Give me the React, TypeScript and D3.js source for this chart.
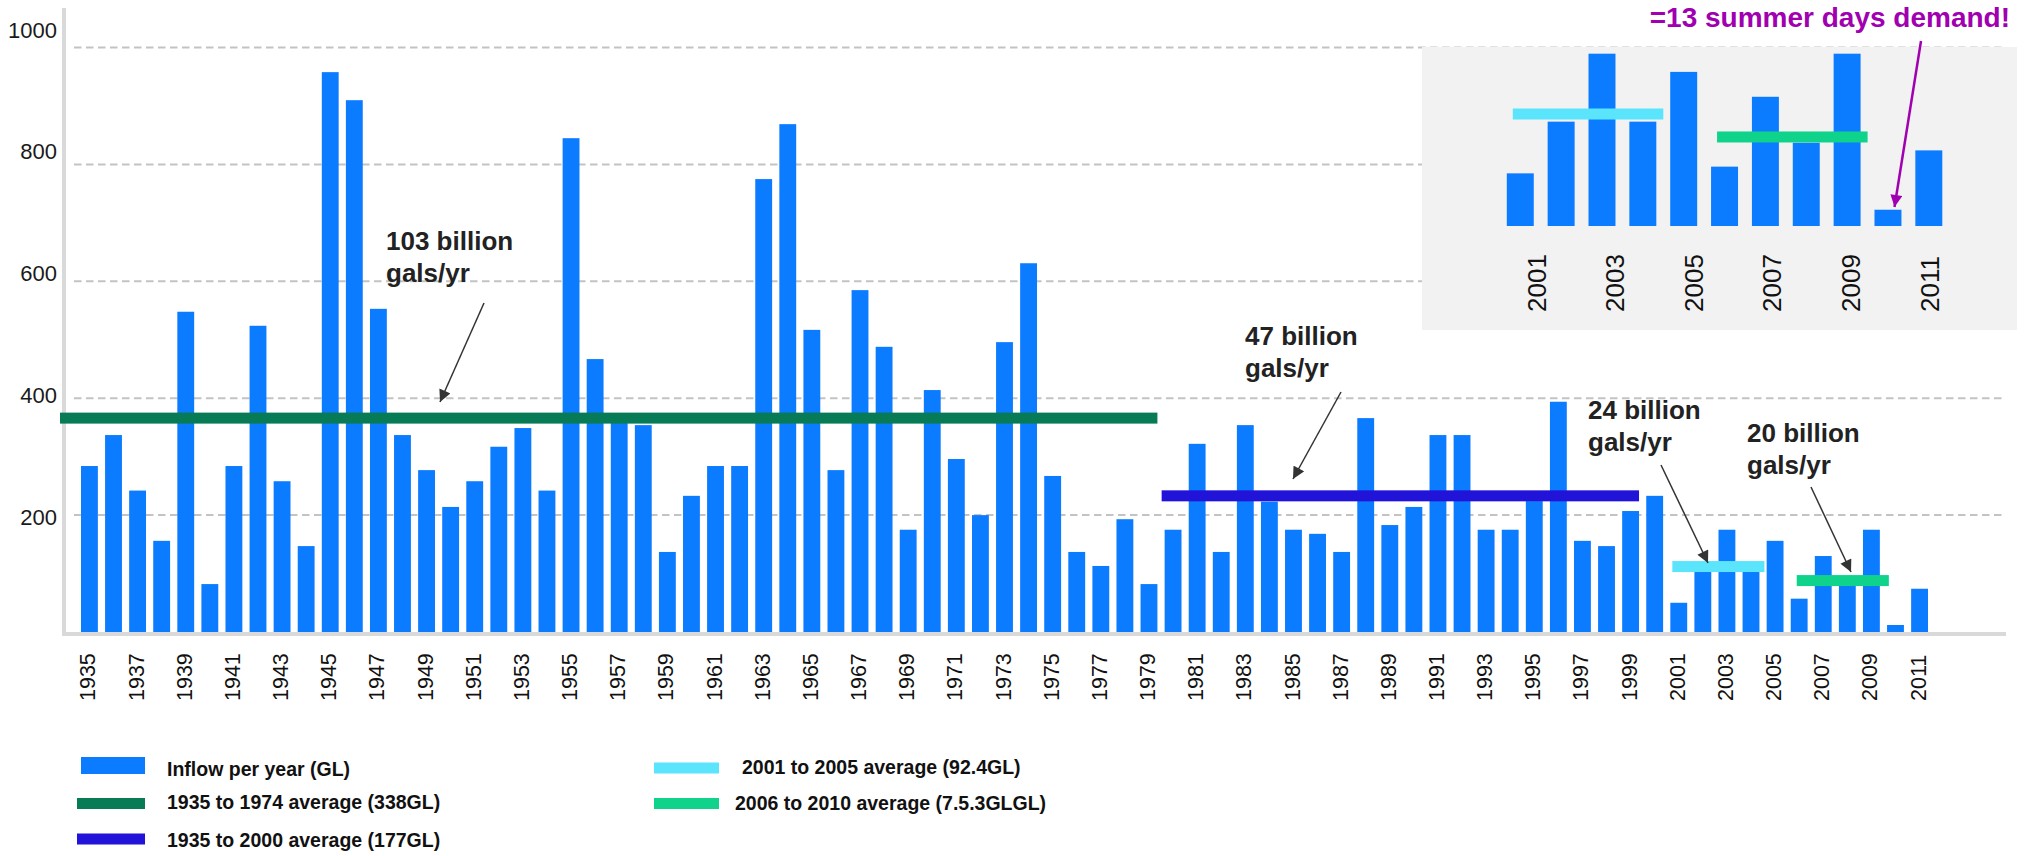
import React, { useEffect, useRef } from 'react';
import * as d3 from 'd3';

// inflow per year (GL)
const years = [
  1935, 1936, 1937, 1938, 1939, 1940, 1941, 1942, 1943, 1944, 1945, 1946, 1947, 1948, 1949, 1950,
  1951, 1952, 1953, 1954, 1955, 1956, 1957, 1958, 1959, 1960, 1961, 1962, 1963, 1964, 1965, 1966,
  1967, 1968, 1969, 1970, 1971, 1972, 1973, 1974, 1975, 1976, 1977, 1978, 1979, 1980, 1981, 1982,
  1983, 1984, 1985, 1986, 1987, 1988, 1989, 1990, 1991, 1992, 1993, 1994, 1995, 1996, 1997, 1998,
  1999, 2000, 2001, 2002, 2003, 2004, 2005, 2006, 2007, 2008, 2009, 2010, 2011,
];
const inflow = [
  284, 337, 242, 156, 548, 82, 284, 524, 258, 147, 958, 910, 553, 337, 277, 214,
  258, 317, 349, 242, 845, 467, 358, 354, 137, 233, 284, 284, 775, 869, 517, 277,
  585, 488, 175, 414, 296, 200, 496, 631, 267, 137, 113, 193, 82, 175, 322, 137,
  354, 223, 175, 168, 137, 366, 183, 214, 337, 337, 175, 175, 224, 394, 156, 147,
  207, 233, 50, 104, 175, 104, 156, 57, 130, 82, 175, 12, 74,
];
const yTicks = [200, 400, 600, 800, 1000];
const xTickYears = years.filter((_, i) => i % 2 === 0);

const insetYears = [2001, 2002, 2003, 2004, 2005, 2006, 2007, 2008, 2009, 2010, 2011];
const insetTicks = [2001, 2003, 2005, 2007, 2009, 2011];

// average bars: year span they are drawn over, and where they sit on the axis
const avgFrom = [1935, 1980, 2001, 2006];
const avgTo = [1979, 1999, 2004, 2009];
const avgValue = [366, 233, 112, 88];
const avgLabels = [
  '1935 to 1974 average (338GL)',
  '1935 to 2000 average (177GL)',
  '2001 to 2005 average (92.4GL)',
  '2006 to 2010 average (7.5.3GLGL)',
];
const avgInInset = [false, false, true, true];

const annotationText = [
  ['103 billion', 'gals/yr'],
  ['47 billion', 'gals/yr'],
  ['24 billion', 'gals/yr'],
  ['20 billion', 'gals/yr'],
];

// styling / layout
const BAR = '#0b7bff';
const AVG_COLORS = ['#077b55', '#2213d9', '#5ae5fd', '#0fd38a'];
const AVG_SHIFT = [0, 0, 5, 9];
const ANNOT_POS = [
  { x: 386, y: 250, from: [484, 303], to: [440, 402] },
  { x: 1245, y: 345, from: [1341, 392], to: [1293, 479] },
  { x: 1588, y: 419, from: [1661, 465], to: [1708, 563] },
  { x: 1747, y: 442, from: [1811, 487], to: [1851, 572] },
];
const FONT = '"Liberation Sans", Arial, sans-serif';

const App = () => {
  const svgRef = useRef(null);

  useEffect(() => {
    const width = 2028;
    const height = 856;
    const svg = d3.select(svgRef.current);
    svg.selectAll('*').remove();
    svg.attr('width', width).attr('height', height).style('font-family', FONT);

    const defs = svg.append('defs');
    const marker = (id, color) => defs.append('marker')
      .attr('id', id)
      .attr('viewBox', '0 0 10 10')
      .attr('refX', 10).attr('refY', 5)
      .attr('markerUnits', 'userSpaceOnUse')
      .attr('markerWidth', 13).attr('markerHeight', 12)
      .attr('orient', 'auto')
      .append('path').attr('d', 'M0,0 L10,5 L0,10 z').attr('fill', color);
    marker('arr-dark', '#333');
    marker('arr-mag', '#a000b0');

    const x = d3.scaleBand().domain(years).range([81, 1928]).paddingInner(0.3).paddingOuter(0);
    const y = d3.scaleLinear().domain([0, 1000]).range([632, 47.6]);
    const yLabel = d3.scaleLinear().domain([200, 1000]).range([517, 30]);
    const axisX = 64;

    // gridlines
    svg.append('g').selectAll('line').data(yTicks).enter().append('line')
      .attr('x1', 74).attr('x2', 2006)
      .attr('y1', d => y(d)).attr('y2', d => y(d))
      .attr('stroke', '#c3c3c3').attr('stroke-width', 2).attr('stroke-dasharray', '7.5 4.5');

    // inset panel
    const inset = { x0: 1422, x1: 2017, y0: 47, y1: 330 };
    svg.append('rect')
      .attr('x', inset.x0).attr('y', inset.y0)
      .attr('width', inset.x1 - inset.x0).attr('height', inset.y1 - inset.y0)
      .attr('fill', '#f2f2f2');

    // bars
    svg.append('g').selectAll('rect').data(inflow).enter().append('rect')
      .attr('x', (d, i) => x(years[i]))
      .attr('y', d => y(d))
      .attr('width', x.bandwidth())
      .attr('height', d => y(0) - y(d))
      .attr('fill', BAR);

    // axis lines
    svg.append('line').attr('x1', axisX).attr('x2', axisX).attr('y1', 8).attr('y2', 636)
      .attr('stroke', '#d9d9d9').attr('stroke-width', 4);
    svg.append('line').attr('x1', 62).attr('x2', 2006).attr('y1', 634).attr('y2', 634)
      .attr('stroke', '#d9d9d9').attr('stroke-width', 4);

    // average lines
    const avgX1 = i => (i === 0 ? axisX - 4 : x(avgFrom[i]) - 3 + AVG_SHIFT[i]);
    const avgX2 = i => x(avgTo[i]) + x.bandwidth() + AVG_SHIFT[i];
    svg.append('g').selectAll('rect').data(avgValue).enter().append('rect')
      .attr('x', (d, i) => avgX1(i))
      .attr('y', d => y(d) - 5.5)
      .attr('width', (d, i) => avgX2(i) - avgX1(i))
      .attr('height', 11)
      .attr('fill', (d, i) => AVG_COLORS[i]);

    // y labels
    svg.append('g').selectAll('text').data(yTicks).enter().append('text')
      .attr('x', 57).attr('y', d => yLabel(d)).attr('dy', '0.35em')
      .attr('text-anchor', 'end').attr('font-size', 22).attr('fill', '#1a1a1a')
      .text(d => d);

    // x labels
    svg.append('g').selectAll('text').data(xTickYears).enter().append('text')
      .attr('transform', d => `translate(${x(d) + x.bandwidth() / 2 - 1.5},701) rotate(-90)`)
      .attr('dy', '0.35em').attr('font-size', 21.5).attr('fill', '#111')
      .text(d => d);

    // inset chart
    const xIn = d3.scaleBand().domain(insetYears).range([1506.8, 1942.3]).paddingInner(0.34).paddingOuter(0);
    const yIn = d3.scaleLinear().domain([-5, 175]).range([226, 53.7]); // floor sits a touch below zero
    const xInLabel = d3.scaleLinear().domain([2001, 2011]).range([1536.5, 1929.5]);
    const insetVals = insetYears.map(yr => inflow[years.indexOf(yr)]);

    svg.append('g').selectAll('rect').data(insetVals).enter().append('rect')
      .attr('x', (d, i) => xIn(insetYears[i]))
      .attr('y', d => yIn(d))
      .attr('width', xIn.bandwidth())
      .attr('height', d => yIn(-5) - yIn(d))
      .attr('fill', BAR);

    const insetAvg = avgValue.map((v, i) => i).filter(i => avgInInset[i]);
    svg.append('g').selectAll('rect').data(insetAvg).enter().append('rect')
      .attr('x', i => xIn(avgFrom[i]) + 6)
      .attr('y', i => yIn(avgValue[i]) - 5.5)
      .attr('width', i => xIn(avgTo[i]) + xIn.bandwidth() + 1)
      .attr('width', i => xIn(avgTo[i]) + xIn.bandwidth() + 7 - (xIn(avgFrom[i]) + 6))
      .attr('height', 11)
      .attr('fill', i => AVG_COLORS[i]);

    svg.append('g').selectAll('text').data(insetTicks).enter().append('text')
      .attr('transform', d => `translate(${xInLabel(d)},312) rotate(-90)`)
      .attr('dy', '0.35em').attr('font-size', 26).attr('fill', '#111')
      .text(d => d);

    // annotations
    const ann = svg.append('g');
    annotationText.forEach((lines, k) => {
      const p = ANNOT_POS[k];
      const t = ann.append('text')
        .attr('x', p.x).attr('y', p.y)
        .attr('font-size', 26).attr('font-weight', 'bold').attr('fill', '#222');
      lines.forEach((l, i) => t.append('tspan').attr('x', p.x).attr('dy', i === 0 ? 0 : 31.5).text(l));
      ann.append('line')
        .attr('x1', p.from[0]).attr('y1', p.from[1])
        .attr('x2', p.to[0]).attr('y2', p.to[1])
        .attr('stroke', '#333').attr('stroke-width', 1.5)
        .attr('marker-end', 'url(#arr-dark)');
    });

    svg.append('text')
      .attr('x', 2010).attr('y', 27)
      .attr('text-anchor', 'end').attr('font-size', 28).attr('font-weight', 'bold')
      .attr('fill', '#a000b0')
      .text('=13 summer days demand!');
    svg.append('line')
      .attr('x1', 1921).attr('y1', 41).attr('x2', 1894.5).attr('y2', 207)
      .attr('stroke', '#a000b0').attr('stroke-width', 2.5)
      .attr('marker-end', 'url(#arr-mag)');

    // legend
    const legendLabels = ['Inflow per year (GL)', ...avgLabels];
    const legendColors = [BAR, ...AVG_COLORS];
    const legendPos = [
      { sx: 81, sw: 64, sy: 757, sh: 17, tx: 167, ty: 775.5 },
      { sx: 77, sw: 68, sy: 798, sh: 11, tx: 167, ty: 809 },
      { sx: 77, sw: 68, sy: 833.5, sh: 11, tx: 167, ty: 847 },
      { sx: 654, sw: 65, sy: 762.5, sh: 11, tx: 742, ty: 774 },
      { sx: 654, sw: 65, sy: 798, sh: 11, tx: 735, ty: 810 },
    ];
    const lg = svg.append('g');
    lg.selectAll('rect').data(legendLabels).enter().append('rect')
      .attr('x', (d, i) => legendPos[i].sx).attr('y', (d, i) => legendPos[i].sy)
      .attr('width', (d, i) => legendPos[i].sw).attr('height', (d, i) => legendPos[i].sh)
      .attr('fill', (d, i) => legendColors[i]);
    lg.selectAll('text').data(legendLabels).enter().append('text')
      .attr('x', (d, i) => legendPos[i].tx).attr('y', (d, i) => legendPos[i].ty)
      .attr('font-size', 19.5).attr('font-weight', 'bold').attr('fill', '#111')
      .text(d => d);
  }, []);

  return (
    <svg ref={svgRef} style={{ position: 'absolute', left: 0, top: 0, display: 'block' }}></svg>
  );
};

export default App;
